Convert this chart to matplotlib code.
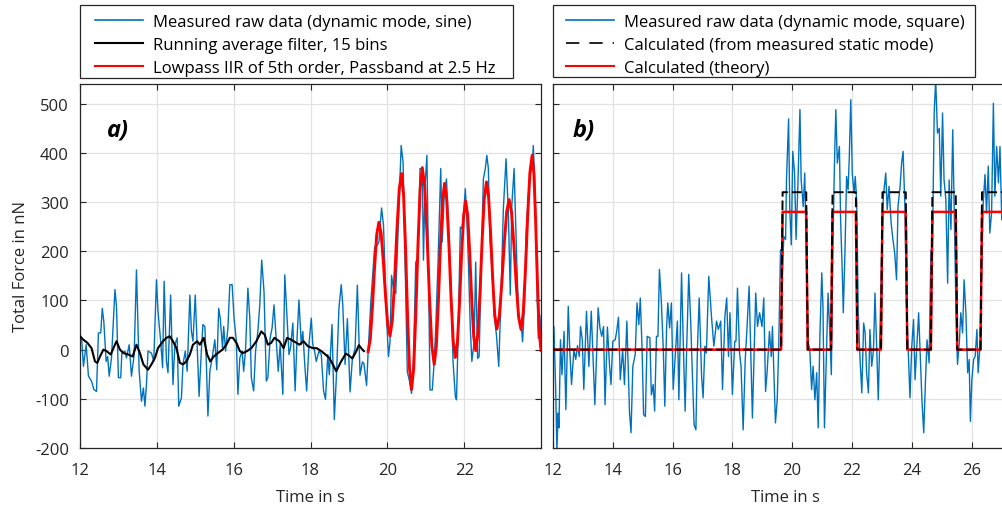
import numpy as np
import matplotlib
matplotlib.use("Agg")
import matplotlib.pyplot as plt
from matplotlib.lines import Line2D
from matplotlib.patches import Rectangle

plt.rcParams['font.family'] = ['Open Sans', 'DejaVu Sans']
plt.rcParams['axes.unicode_minus'] = False

# --- panel a): sine excitation ---
left_raw_t = [12.00, 12.04, 12.09, 12.16, 12.22, 12.30, 12.36, 12.43, 12.48, 12.54, 12.58, 12.62,
              12.68, 12.72, 12.76, 12.82, 12.91, 12.95, 13.00, 13.06, 13.09, 13.17, 13.21, 13.28,
              13.34, 13.41, 13.47, 13.54, 13.60, 13.65, 13.69, 13.73, 13.77, 13.86, 13.92, 13.99,
              14.03, 14.10, 14.15, 14.19, 14.25, 14.29, 14.36, 14.42, 14.47, 14.53, 14.57, 14.64,
              14.68, 14.74, 14.79, 14.86, 14.90, 14.94, 15.00, 15.05, 15.10, 15.16, 15.20, 15.25,
              15.29, 15.33, 15.38, 15.44, 15.51, 15.56, 15.61, 15.65, 15.71, 15.74, 15.79, 15.85,
              15.90, 15.96, 16.01, 16.07, 16.11, 16.16, 16.22, 16.26, 16.31, 16.37, 16.42, 16.46,
              16.52, 16.57, 16.63, 16.68, 16.73, 16.79, 16.85, 16.89, 16.95, 17.00, 17.05, 17.11,
              17.16, 17.21, 17.28, 17.33, 17.39, 17.44, 17.48, 17.54, 17.60, 17.65, 17.70, 17.76,
              17.80, 17.85, 17.90, 17.96, 18.02, 18.06, 18.10, 18.15, 18.22, 18.28, 18.34, 18.39,
              18.45, 18.49, 18.56, 18.62, 18.68, 18.74, 18.80, 18.84, 18.90, 18.96, 19.03, 19.09,
              19.16, 19.22, 19.29, 19.35, 19.39, 19.46, 19.50, 19.57, 19.67, 19.74, 19.78, 19.85,
              19.90, 19.94, 19.98, 20.03, 20.07, 20.11, 20.16, 20.22, 20.29, 20.36, 20.41, 20.46,
              20.52, 20.58, 20.63, 20.68, 20.74, 20.80, 20.85, 20.91, 20.94, 20.98, 21.03, 21.07,
              21.11, 21.17, 21.22, 21.26, 21.32, 21.39, 21.43, 21.48, 21.54, 21.65, 21.71, 21.77,
              21.80, 21.84, 21.90, 21.94, 21.98, 22.03, 22.07, 22.11, 22.16, 22.20, 22.26, 22.30,
              22.35, 22.39, 22.43, 22.50, 22.55, 22.59, 22.63, 22.67, 22.74, 22.78, 22.84, 22.90,
              22.96, 23.02, 23.09, 23.15, 23.20, 23.24, 23.30, 23.37, 23.42, 23.48, 23.52, 23.57,
              23.61, 23.67, 23.72, 23.77, 23.80, 23.85, 23.90, 23.93, 23.97, 24.00]
left_raw_v = [30, 24, -34, 10, -54, -64, -81, -85, 34, 34, 84, 57,
              -24, -14, -54, -17, 122, 88, -57, -57, -7, -3, -17, 10,
              -54, -10, 162, -44, -105, -78, -115, -71, -3, -7, -24, 142,
              78, 17, -37, 139, -24, -47, 111, -71, 10, 24, -115, -98,
              -30, -3, -44, 111, 37, 17, 111, 10, -95, 0, 51, 47,
              -30, -135, -44, -17, 20, -41, 84, 64, 3, 47, -3, 44,
              132, 132, 64, 17, -91, -17, -3, -44, 0, 125, 64, -57,
              -84, -3, 37, 91, 182, 118, -64, -57, 24, 44, 91, 17,
              -44, 10, -91, 152, 64, -10, 3, 54, -84, 24, 101, 10,
              37, -30, -84, 10, 64, 10, 0, -24, -3, -10, -84, -101,
              -10, -51, 51, -142, -44, 84, 132, 91, -30, 63, -86, -18,
              2, 131, -52, -25, -28, -73, -5, 97, 209, 212, 219, 288,
              253, 158, 64, -14, 16, 151, 124, 114, 266, 415, 381, 192,
              -45, -65, -89, -24, 178, 185, 368, 368, 182, 330, 395, 178,
              -82, -82, -24, 43, 178, 368, 219, 314, 347, 151, -24, -95,
              -102, 16, 249, 246, 270, 327, 266, 178, 43, -24, 16, 178,
              -18, -14, 124, 347, 368, 395, 368, 226, 141, 70, 30, -34,
              111, 286, 388, 280, 111, 293, 368, 178, 57, 57, 16, 91,
              232, 314, 354, 374, 415, 314, 111, 23, 70, 30]

avg_t = [12.00, 12.09, 12.19, 12.30, 12.39, 12.45, 12.52, 12.61, 12.69, 12.80, 12.87, 12.95,
         13.04, 13.13, 13.26, 13.37, 13.47, 13.56, 13.65, 13.77, 13.86, 13.95, 14.03, 14.16,
         14.25, 14.34, 14.42, 14.51, 14.60, 14.68, 14.77, 14.86, 14.94, 15.05, 15.12, 15.22,
         15.31, 15.39, 15.48, 15.59, 15.71, 15.81, 15.90, 15.98, 16.07, 16.16, 16.24, 16.35,
         16.46, 16.59, 16.72, 16.81, 16.89, 16.98, 17.06, 17.19, 17.30, 17.39, 17.50, 17.63,
         17.71, 17.82, 17.93, 18.06, 18.16, 18.28, 18.39, 18.49, 18.58, 18.67, 18.79, 18.92,
         19.00, 19.09, 19.18, 19.26, 19.33, 19.39]
avg_v = [27, 20, 14, 3, -24, -27, -14, 0, -3, -10, 3, 17,
         0, -7, -10, -14, 10, -7, -30, -41, -30, -17, 3, 17,
         24, 27, 17, 3, -27, -30, -24, -10, 10, 17, 10, 24,
         -10, -24, -14, -7, 0, 10, 24, 24, 14, -3, -7, -3,
         3, 17, 37, 30, 10, 14, 24, 17, 3, 24, 20, 14,
         10, 17, 7, 3, 3, -3, -10, -17, -30, -44, -25, -8,
         -12, -18, -5, 9, 2, -3]

iir_t = [19.50, 19.556, 19.612, 19.668, 19.724, 19.78, 19.838, 19.896, 19.954, 20.012, 20.07,
         20.13, 20.19, 20.25, 20.31, 20.37, 20.422, 20.474, 20.526, 20.578, 20.63,
         20.686, 20.742, 20.798, 20.854, 20.91, 20.972, 21.034, 21.096, 21.158, 21.22,
         21.274, 21.328, 21.382, 21.436, 21.49, 21.546, 21.602, 21.658, 21.714, 21.77,
         21.824, 21.878, 21.932, 21.986, 22.04, 22.092, 22.144, 22.196, 22.248, 22.30,
         22.356, 22.412, 22.468, 22.524, 22.58, 22.634, 22.688, 22.742, 22.796, 22.85,
         22.914, 22.978, 23.042, 23.106, 23.17, 23.232, 23.294, 23.356, 23.418, 23.48,
         23.538, 23.596, 23.654, 23.712, 23.77, 23.816, 23.862, 23.908, 23.954, 24.00]
iir_v = [-4, 21, 87, 168, 234, 259, 237, 179, 108, 50, 28,
         60, 142, 244, 326, 358, 316, 207, 70, -39, -81,
         -38, 75, 214, 327, 370, 332, 232, 108, 8, -30,
         5, 97, 211, 303, 338, 304, 216, 106, 18, -16,
         14, 94, 192, 272, 302, 273, 197, 103, 27, -2,
         31, 116, 223, 308, 341, 312, 238, 145, 71, 42,
         67, 133, 214, 280, 305, 280, 214, 132, 66, 41,
         75, 163, 273, 361, 395, 357, 258, 135, 36, -2]

# --- panel b): square excitation ---
right_raw_t = [12.00, 12.03, 12.09, 12.13, 12.17, 12.20, 12.25, 12.30, 12.37, 12.43, 12.51, 12.56,
               12.62, 12.70, 12.76, 12.82, 12.88, 12.92, 12.98, 13.03, 13.12, 13.20, 13.28, 13.35,
               13.40, 13.51, 13.57, 13.63, 13.69, 13.74, 13.82, 13.89, 13.94, 14.00, 14.08, 14.13,
               14.19, 14.25, 14.33, 14.39, 14.47, 14.56, 14.61, 14.67, 14.75, 14.81, 14.87, 14.92,
               14.98, 15.03, 15.09, 15.15, 15.24, 15.29, 15.35, 15.40, 15.46, 15.51, 15.56, 15.62,
               15.69, 15.74, 15.80, 15.84, 15.90, 15.96, 16.02, 16.10, 16.16, 16.21, 16.30, 16.36,
               16.42, 16.47, 16.54, 16.61, 16.66, 16.72, 16.78, 16.83, 16.89, 16.97, 17.02, 17.08,
               17.13, 17.21, 17.30, 17.38, 17.47, 17.53, 17.61, 17.67, 17.75, 17.81, 17.87, 17.92,
               18.00, 18.08, 18.12, 18.17, 18.24, 18.29, 18.36, 18.43, 18.48, 18.56, 18.62, 18.67,
               18.78, 18.84, 18.91, 18.99, 19.05, 19.11, 19.16, 19.24, 19.30, 19.34, 19.44, 19.50,
               19.55, 19.61, 19.66, 19.72, 19.78, 19.81, 19.88, 19.92, 19.97, 20.02, 20.08, 20.13,
               20.19, 20.26, 20.30, 20.37, 20.42, 20.48, 20.54, 20.59, 20.65, 20.70, 20.76, 20.82,
               20.87, 20.93, 20.99, 21.03, 21.08, 21.14, 21.20, 21.25, 21.31, 21.36, 21.42, 21.46,
               21.51, 21.58, 21.62, 21.68, 21.71, 21.77, 21.82, 21.87, 21.91, 21.96, 22.01, 22.07,
               22.11, 22.16, 22.21, 22.27, 22.33, 22.39, 22.44, 22.49, 22.55, 22.60, 22.66, 22.72,
               22.77, 22.83, 22.88, 22.94, 22.99, 23.05, 23.13, 23.18, 23.24, 23.31, 23.37, 23.43,
               23.49, 23.54, 23.61, 23.66, 23.71, 23.77, 23.82, 23.88, 23.94, 24.00, 24.06, 24.11,
               24.17, 24.23, 24.29, 24.34, 24.40, 24.46, 24.51, 24.58, 24.64, 24.69, 24.75, 24.80,
               24.86, 24.92, 24.97, 25.03, 25.08, 25.14, 25.20, 25.25, 25.31, 25.37, 25.42, 25.48,
               25.53, 25.59, 25.64, 25.70, 25.75, 25.81, 25.87, 25.92, 25.96, 26.01, 26.07, 26.12,
               26.18, 26.22, 26.28, 26.34, 26.39, 26.45, 26.50, 26.56, 26.61, 26.67, 26.73, 26.78,
               26.84, 26.90, 26.95, 27.01, 27.06]
right_raw_v = [0, 47, -81, -205, -129, -159, 20, -51, 37, -122, 88, 0,
               -71, 0, -20, 8, -14, 47, 20, -81, 78, -34, 78, -34,
               -112, 85, 44, 27, 47, -112, 46, -31, -71, 17, 20, 37,
               66, -61, 0, -71, 58, -129, -169, -34, -10, 95, 51, 105,
               0, -132, -136, 27, 24, -92, -71, -125, 27, 27, 163, 102,
               0, -115, 47, 95, 44, 95, -81, 0, 58, -102, 156, 7,
               -125, 0, 153, 51, -47, -153, -163, 0, 105, -54, -98, 7,
               -7, 149, 68, 7, 58, 41, 58, -81, 68, 105, -14, 75,
               -91, 17, 17, 125, -7, -34, -163, -20, 34, 129, -20, -139,
               115, 47, 75, 47, 105, -85, -47, 37, -14, 47, -149, -102,
               7, 203, 135, 230, 224, 345, 469, 285, 213, 403, 359, 224,
               332, 488, 345, 291, 359, 169, 14, 0, -81, -34, -102, -47,
               -159, 34, 156, 88, -159, -20, 115, 47, -51, 210, 393, 488,
               379, 413, 264, 149, 75, 210, 352, 325, 390, 508, 359, 318,
               352, 298, 75, -20, -88, 54, 34, -47, -88, 41, -34, 0,
               115, -7, -102, 47, 190, 312, 359, 285, 332, 257, 224, 196,
               142, 291, 332, 379, 403, 291, 102, 0, -98, 7, 61, -61,
               7, 75, -20, -102, -169, -61, 20, -27, 203, 190, 481, 549,
               440, 450, 312, 481, 345, 305, 135, 345, 244, 447, 285, 75,
               -30, 14, 75, 34, 142, 75, -47, -20, -146, -61, -20, -14,
               41, -47, 7, 169, 298, 356, 278, 373, 237, 278, 501, 312,
               413, 339, 413, 264, 278]

square_t = [12.00, 19.63, 19.68, 20.47, 20.52, 21.30, 21.35, 22.13, 22.18, 22.97, 23.02,
            23.80, 23.85, 24.64, 24.69, 25.47, 25.52, 26.30, 26.35, 27.50]
static_v = [0, 0, 320, 320, 0, 0, 320, 320, 0, 0, 320, 320, 0, 0, 320, 320, 0, 0, 320, 320]
theory_v = [0, 0, 280, 280, 0, 0, 280, 280, 0, 0, 280, 280, 0, 0, 280, 280, 0, 0, 280, 280]

BLUE = '#0072BD'
SPINE = '#262626'
W, H = 1003, 506

fig = plt.figure(figsize=(W / 100, H / 100), dpi=100)
ax1 = fig.add_axes([80 / W, 57 / H, 461 / W, 364 / H])
ax2 = fig.add_axes([553 / W, 57 / H, 464 / W, 364 / H])

ax1.plot(left_raw_t, left_raw_v, color=BLUE, lw=1.0, zorder=2)
ax1.plot(avg_t, avg_v, color='black', lw=1.5, zorder=3)
ax1.plot(iir_t, iir_v, color='red', lw=2.1, zorder=4, solid_joinstyle='round')

ax2.plot(right_raw_t, right_raw_v, color=BLUE, lw=1.0, zorder=2)
ax2.plot(square_t, theory_v, color='red', lw=1.8, zorder=3)
ax2.plot(square_t, static_v, color='black', lw=1.4, dashes=(5, 2), zorder=4)

for ax in (ax1, ax2):
    ax.set_ylim(-200, 540)
    ax.set_yticks(np.arange(-200, 501, 100))
    ax.grid(True, color='#e2e2e2', lw=0.9, zorder=0)
    ax.set_axisbelow(True)
    ax.tick_params(direction='in', top=True, right=True, length=4, width=0.8,
                   colors=SPINE, labelsize=12, pad=8)
    ax.tick_params(axis='x', pad=10)
    for s in ax.spines.values():
        s.set_color(SPINE)
        s.set_linewidth(0.9)
    ax.set_xlabel('Time in s', fontsize=12, color=SPINE, labelpad=8)

ax1.set_xlim(12, 24)
ax1.set_xticks([12, 14, 16, 18, 20, 22])
ax2.set_xlim(12, 27.52)
ax2.set_xticks([12, 14, 16, 18, 20, 22, 24, 26])
ax2.tick_params(labelleft=False)
ax1.set_ylabel('Total Force in nN', fontsize=12, color=SPINE)
ax1.yaxis.set_label_coords(-0.11, 0.5)

ax1.text(0.058, 0.874, 'a)', transform=ax1.transAxes, fontsize=17,
         fontweight='bold', fontstyle='italic', va='center', ha='left')
ax2.text(0.043, 0.874, 'b)', transform=ax2.transAxes, fontsize=17,
         fontweight='bold', fontstyle='italic', va='center', ha='left')

# legend frames drawn by hand so the padding matches
for x0, x1, y1 in [(80, 513, 79), (553, 975, 78)]:
    fig.patches.append(Rectangle((x0 / W, 1 - y1 / H), (x1 - x0) / W, (y1 - 6) / H,
                                 transform=fig.transFigure, facecolor='white',
                                 edgecolor=SPINE, lw=0.9, zorder=1))

leg_kw = dict(loc='upper left', borderaxespad=0, borderpad=0, frameon=False,
              fontsize=12, handlelength=2.9, handletextpad=0.6, labelspacing=0.42,
              bbox_transform=fig.transFigure)

h1 = [Line2D([], [], color=BLUE, lw=1.2), Line2D([], [], color='black', lw=1.5),
      Line2D([], [], color='red', lw=1.5)]
l1 = ['Measured raw data (dynamic mode, sine)', 'Running average filter, 15 bins',
      'Lowpass IIR of 5th order, Passband at 2.5 Hz']
fig.legend(h1, l1, bbox_to_anchor=(95 / W, 1 - 15 / H), **leg_kw)

h2 = [Line2D([], [], color=BLUE, lw=1.2), Line2D([], [], color='black', lw=1.2, dashes=(8, 6)),
      Line2D([], [], color='red', lw=1.5)]
l2 = ['Measured raw data (dynamic mode, square)', 'Calculated (from measured static mode)',
      'Calculated (theory)']
fig.legend(h2, l2, bbox_to_anchor=(566 / W, 1 - 15 / H), **leg_kw)

fig.savefig('out.png', dpi=100)
